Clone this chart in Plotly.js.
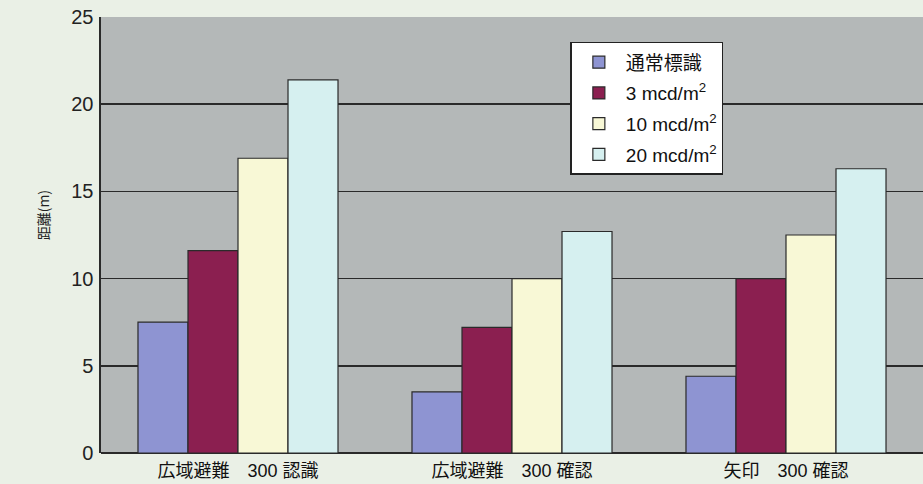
<!DOCTYPE html>
<html>
<head>
<meta charset="utf-8">
<script src="https://cdn.plot.ly/plotly-3.0.1.min.js"></script>
<style>html,body{margin:0;padding:0;background:#eaf0e6;}#chart{width:923px;height:484px;}</style>
</head>
<body>
<div id="chart"></div>
<script>
const categories = ["広域避難　300 認識", "広域避難　300 確認", "矢印　300 確認"];
const seriesNames = ["通常標識", "3 mcd/m<sup>2</sup>", "10 mcd/m<sup>2</sup>", "20 mcd/m<sup>2</sup>"];
const normalSign = [7.5, 3.5, 4.4];
const lum3 = [11.6, 7.2, 10.0];
const lum10 = [16.9, 10.0, 12.5];
const lum20 = [21.4, 12.7, 16.3];
const yTicks = [0, 5, 10, 15, 20, 25];
const yTitle = "距離(m)";

const colors = ["#8e94d2", "#8b1f50", "#f8f8d6", "#d6f0f0"];
const values = [normalSign, lum3, lum10, lum20];

const traces = values.map((v, i) => ({
  type: "bar",
  name: seriesNames[i],
  x: categories,
  y: v,
  legendgroup: "g" + i,
  marker: {color: colors[i], line: {color: "#2a2a2a", width: 1.2}},
  hoverinfo: "skip"
}));

const layout = {
  width: 923, height: 484,
  margin: {l: 101, r: 0, t: 17, b: 31},
  paper_bgcolor: "#eaf0e6",
  plot_bgcolor: "#b4b8b8",
  barmode: "group",
  bargap: 0.27,
  bargroupgap: 0,
  font: {family: "Liberation Sans, Arial, Noto Sans CJK JP, sans-serif", color: "#1a1a1a"},
  xaxis: {
    range: [-0.5, 2.5],
    showgrid: false,
    zeroline: false,
    showline: false,
    ticks: "",
    ticklabelstandoff: 5,
    tickfont: {size: 18, family: "Liberation Sans, Noto Sans CJK JP, sans-serif", color: "#111"},
    fixedrange: true
  },
  yaxis: {
    range: [0, 25],
    tickvals: yTicks,
    ticktext: yTicks.map(String),
    showgrid: true,
    gridcolor: "#2a2a2a",
    gridwidth: 1.6,
    zeroline: true,
    zerolinecolor: "#2a2a2a",
    zerolinewidth: 1.6,
    showline: true,
    linecolor: "#2a2a2a",
    linewidth: 1.6,
    ticks: "",
    ticklabelstandoff: 2,
    tickfont: {size: 20, color: "#222"},
    fixedrange: true
  },
  annotations: [{
    text: yTitle,
    xref: "paper", yref: "paper",
    x: -0.0706, y: 0.545,
    xanchor: "center", yanchor: "middle",
    textangle: -90,
    showarrow: false,
    font: {size: 14, family: "Noto Sans CJK JP, sans-serif", color: "#222"}
  }],
  legend: {
    x: 0.571, y: 0.943, xanchor: "left", yanchor: "top",
    bgcolor: "#ffffff",
    bordercolor: "#222",
    borderwidth: 1.5,
    font: {size: 19, family: "Liberation Sans, Noto Sans CJK JP, sans-serif", color: "#111"},
    tracegroupgap: 3,
    itemwidth: 44
  },
  showlegend: true
};

Plotly.newPlot("chart", traces, layout, {displayModeBar: false, staticPlot: true});
</script>
</body>
</html>
